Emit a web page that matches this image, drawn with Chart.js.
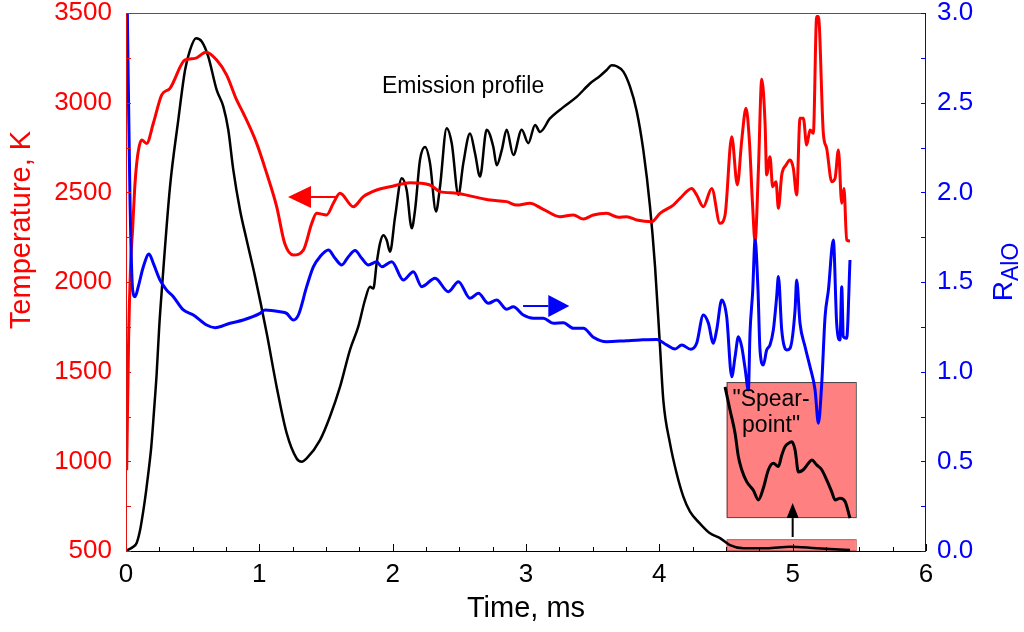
<!DOCTYPE html>
<html>
<head>
<meta charset="utf-8">
<script src="https://cdn.jsdelivr.net/npm/chart.js@4.4.1/dist/chart.umd.min.js"></script>
<style>
  html, body { margin: 0; padding: 0; background: #fff; }
  #wrap { width: 1024px; height: 632px; }
</style>
</head>
<body>
<div id="wrap"><canvas id="myChart" width="1024" height="632"></canvas></div>
<script>
// Temperature (left axis, K)
const tempTime = [0.005, 0.02, 0.035, 0.05, 0.065, 0.08, 0.1, 0.118, 0.155, 0.205, 0.268, 0.33, 0.443, 0.518, 0.6, 0.68, 0.755, 0.83, 0.88, 0.98, 1.055, 1.13, 1.19, 1.255, 1.33, 1.393, 1.43, 1.505, 1.555, 1.605, 1.705, 1.78, 1.88, 1.98, 2.13, 2.28, 2.355, 2.48, 2.605, 2.73, 2.855, 2.93, 3.03, 3.13, 3.255, 3.355, 3.43, 3.505, 3.605, 3.693, 3.755, 3.83, 3.943, 4.005, 4.105, 4.155, 4.243, 4.28, 4.33, 4.393, 4.455, 4.493, 4.543, 4.585, 4.618, 4.65, 4.675, 4.7, 4.718, 4.743, 4.768, 4.793, 4.805, 4.83, 4.85, 4.875, 4.893, 4.918, 4.95, 4.98, 5.005, 5.03, 5.055, 5.08, 5.105, 5.13, 5.155, 5.18, 5.193, 5.23, 5.255, 5.293, 5.318, 5.343, 5.368, 5.385, 5.405, 5.43];
const tempK = [950, 1700, 2100, 2300, 2520, 2660, 2760, 2792, 2773, 2885, 3043, 3080, 3238, 3247, 3281, 3238, 3154, 3015, 2941, 2773, 2606, 2420, 2216, 2151, 2178, 2327, 2383, 2374, 2439, 2495, 2420, 2476, 2513, 2531, 2554, 2541, 2504, 2495, 2476, 2457, 2448, 2429, 2439, 2405, 2364, 2374, 2351, 2374, 2383, 2361, 2364, 2346, 2336, 2383, 2429, 2466, 2522, 2485, 2420, 2522, 2327, 2374, 2810, 2541, 2790, 2969, 2792, 2420, 2225, 2625, 3130, 2885, 2597, 2699, 2531, 2559, 2411, 2597, 2652, 2680, 2634, 2485, 2913, 2913, 2764, 2848, 2829, 3480, 3480, 2829, 2746, 2559, 2578, 2736, 2439, 2522, 2234, 2229];

// R_AlO ratio (right axis)
const ratioTime = [0.01, 0.03, 0.05, 0.068, 0.092, 0.13, 0.173, 0.205, 0.255, 0.305, 0.355, 0.43, 0.505, 0.605, 0.668, 0.78, 0.88, 1.005, 1.043, 1.155, 1.205, 1.255, 1.293, 1.355, 1.405, 1.455, 1.518, 1.568, 1.618, 1.668, 1.718, 1.768, 1.818, 1.88, 1.918, 1.993, 2.08, 2.155, 2.218, 2.318, 2.418, 2.493, 2.58, 2.643, 2.718, 2.78, 2.855, 2.905, 2.98, 3.055, 3.13, 3.205, 3.28, 3.355, 3.43, 3.505, 3.605, 3.755, 3.855, 3.98, 4.055, 4.118, 4.168, 4.235, 4.28, 4.33, 4.368, 4.405, 4.43, 4.468, 4.505, 4.543, 4.568, 4.593, 4.618, 4.643, 4.668, 4.68, 4.7, 4.718, 4.74, 4.755, 4.78, 4.805, 4.83, 4.855, 4.88, 4.893, 4.918, 4.955, 4.98, 5.018, 5.03, 5.055, 5.093, 5.13, 5.168, 5.193, 5.218, 5.243, 5.268, 5.305, 5.33, 5.355, 5.368, 5.38, 5.405, 5.43];
const ratioVal = [3.0, 1.957, 1.455, 1.418, 1.474, 1.585, 1.656, 1.604, 1.511, 1.455, 1.418, 1.344, 1.316, 1.26, 1.245, 1.27, 1.288, 1.325, 1.344, 1.334, 1.325, 1.288, 1.316, 1.474, 1.584, 1.641, 1.678, 1.632, 1.595, 1.641, 1.675, 1.632, 1.595, 1.613, 1.585, 1.613, 1.511, 1.557, 1.474, 1.521, 1.446, 1.502, 1.409, 1.437, 1.381, 1.4, 1.348, 1.362, 1.316, 1.298, 1.298, 1.27, 1.273, 1.242, 1.242, 1.192, 1.167, 1.173, 1.177, 1.18, 1.149, 1.126, 1.149, 1.125, 1.158, 1.316, 1.27, 1.158, 1.232, 1.4, 1.307, 0.972, 1.083, 1.195, 1.139, 1.019, 0.898, 1.214, 1.446, 1.734, 1.455, 1.121, 1.037, 1.121, 1.149, 1.232, 1.418, 1.53, 1.232, 1.121, 1.13, 1.344, 1.511, 1.27, 1.139, 1.028, 0.898, 0.712, 0.935, 1.307, 1.455, 1.734, 1.27, 1.177, 1.474, 1.195, 1.186, 1.623];

// Emission profile (arbitrary units, hidden axis 0-100)
const emisTime = [0, 0.055, 0.08, 0.105, 0.13, 0.15, 0.17, 0.19, 0.21, 0.23, 0.25, 0.27, 0.33, 0.392, 0.443, 0.48, 0.525, 0.568, 0.617, 0.68, 0.73, 0.767, 0.805, 0.855, 0.905, 0.968, 1.055, 1.13, 1.205, 1.28, 1.318, 1.355, 1.455, 1.53, 1.605, 1.68, 1.742, 1.793, 1.83, 1.855, 1.88, 1.905, 1.93, 1.955, 1.98, 2.018, 2.068, 2.105, 2.143, 2.168, 2.205, 2.243, 2.28, 2.325, 2.355, 2.405, 2.443, 2.493, 2.53, 2.58, 2.618, 2.655, 2.705, 2.755, 2.78, 2.818, 2.855, 2.905, 2.968, 3.017, 3.068, 3.105, 3.18, 3.28, 3.38, 3.48, 3.555, 3.605, 3.643, 3.68, 3.73, 3.78, 3.83, 3.88, 3.93, 3.968, 4.005, 4.03, 4.08, 4.13, 4.18, 4.23, 4.305, 4.38, 4.455, 4.53, 4.63, 4.805, 4.98, 5.18, 5.43];
const emisVal = [0, 0.8, 1.5, 3.8, 7.5, 11, 15, 19.5, 26, 33, 42, 49, 67.7, 80.1, 89.4, 93.1, 95.3, 94.7, 91.9, 85.7, 82.6, 78.3, 70.8, 63.4, 57.8, 51, 40.5, 30.5, 21.9, 17.2, 16.6, 17.2, 20.6, 25, 30.5, 37.4, 41.7, 46.7, 49.1, 48.8, 53.5, 57.2, 58.7, 57.8, 55.6, 62.1, 69.3, 67.1, 60, 63.4, 72.7, 75.1, 72.1, 63.1, 67.7, 78.6, 75.8, 66.2, 72.1, 77.6, 73.9, 69.6, 78.3, 75.1, 71.7, 74.5, 78.3, 73.6, 78.3, 75.8, 79.2, 77.9, 80.4, 82.5, 84.4, 86.9, 88.3, 89.4, 90.3, 90.1, 89.1, 86.3, 81.8, 74.5, 64, 52.8, 38, 28, 20, 14.4, 10.1, 7.3, 5.1, 3.3, 2.4, 1.1, 0.5, 0.5, 0.8, 0.5, 0.2];

// Magnified "spear-point" tail (same hidden axis)
const spearTime = [4.493, 4.53, 4.568, 4.593, 4.618, 4.655, 4.705, 4.743, 4.78, 4.818, 4.855, 4.893, 4.918, 4.943, 4.968, 4.993, 5.018, 5.043, 5.08, 5.118, 5.143, 5.18, 5.218, 5.255, 5.293, 5.318, 5.355, 5.393, 5.43];
const spearVal = [30.5, 26.2, 21.9, 17.5, 15.1, 12.9, 11.3, 9.5, 11.7, 15.1, 16.3, 15.7, 17.8, 19.4, 20, 20.3, 18.8, 14.7, 15.1, 16.3, 16.9, 16, 15.1, 13.2, 11, 9.5, 9.8, 9.2, 6.1];

const timeTicks = [0, 1, 2, 3, 4, 5, 6];
const tempTicks = [500, 1000, 1500, 2000, 2500, 3000, 3500];
const ratioTicks = [0, 0.5, 1.0, 1.5, 2.0, 2.5, 3.0];

const FONT = 'Arial, "Liberation Sans", sans-serif';
Chart.defaults.font.family = FONT;

function pts(xs, ys) {
  return xs.map((x, i) => ({ x: x, y: ys[i] }));
}

function line(ctx, x1, y1, x2, y2) {
  ctx.beginPath();
  ctx.moveTo(x1, y1);
  ctx.lineTo(x2, y2);
  ctx.stroke();
}

function arrow(ctx, x1, y1, x2, y2, color, head, half, width) {
  // shaft up to the head base, then a filled triangle ending at (x2,y2)
  const ang = Math.atan2(y2 - y1, x2 - x1);
  const bx = x2 - head * Math.cos(ang);
  const by = y2 - head * Math.sin(ang);
  ctx.strokeStyle = color;
  ctx.fillStyle = color;
  ctx.lineWidth = width;
  line(ctx, x1, y1, bx, by);
  ctx.beginPath();
  ctx.moveTo(x2, y2);
  ctx.lineTo(bx - half * Math.sin(ang), by + half * Math.cos(ang));
  ctx.lineTo(bx + half * Math.sin(ang), by - half * Math.cos(ang));
  ctx.closePath();
  ctx.fill();
}

const overlay = {
  id: "overlay",
  beforeDatasetsDraw(chart) {
    const ctx = chart.ctx;
    const x = chart.scales.x, e = chart.scales.yE;
    ctx.save();
    // pink boxes: zoomed window and its source region
    const x1 = x.getPixelForValue(4.505), x2 = x.getPixelForValue(5.473);
    ctx.fillStyle = "#ff8080";
    ctx.strokeStyle = "#444";
    ctx.lineWidth = 1;
    let t = e.getPixelForValue(31.4), b = e.getPixelForValue(6.3);
    ctx.fillRect(x1, t, x2 - x1, b - t);
    ctx.strokeRect(x1 + 0.5, t + 0.5, x2 - x1, b - t);
    t = e.getPixelForValue(2.2); b = e.getPixelForValue(0);
    ctx.fillRect(x1, t, x2 - x1, b - t);
    ctx.strokeStyle = "#c86060";
    ctx.strokeRect(x1 + 0.5, t + 0.5, x2 - x1, b - t - 1);
    ctx.restore();
  },
  afterDatasetsDraw(chart) {
    const ctx = chart.ctx;
    const x = chart.scales.x, y = chart.scales.y, y2 = chart.scales.y2, e = chart.scales.yE;
    ctx.save();
    // direction arrows
    arrow(ctx, x.getPixelForValue(1.575), y.getPixelForValue(2474), x.getPixelForValue(1.215), y.getPixelForValue(2474), "#ff0000", 23, 11, 2);
    arrow(ctx, x.getPixelForValue(2.978), y2.getPixelForValue(1.366), x.getPixelForValue(3.325), y2.getPixelForValue(1.366), "#0000ff", 21, 11, 2);
    arrow(ctx, x.getPixelForValue(5.0), e.getPixelForValue(2.6), x.getPixelForValue(5.0), e.getPixelForValue(8.9), "#000000", 15, 6, 2);
    // labels
    ctx.fillStyle = "#000";
    ctx.textAlign = "center";
    ctx.textBaseline = "middle";
    ctx.font = "23px " + FONT;
    ctx.fillText("Emission profile", x.getPixelForValue(2.528), e.getPixelForValue(86.4));
    ctx.fillText("\"Spear-", x.getPixelForValue(4.838), e.getPixelForValue(28.2));
    ctx.fillText("point\"", x.getPixelForValue(4.838), e.getPixelForValue(23.3));
    ctx.restore();
  },
  afterDraw(chart) {
    const ctx = chart.ctx;
    const { left, right, top, bottom } = chart.chartArea;
    const x = chart.scales.x, y = chart.scales.y, y2 = chart.scales.y2;
    ctx.save();
    ctx.lineWidth = 1;
    ctx.strokeStyle = "#555";
    line(ctx, left, top + 0.5, right, top + 0.5);
    // bottom axis with inward ticks
    ctx.strokeStyle = "#000";
    line(ctx, left, bottom + 0.5, right, bottom + 0.5);
    for (let v = 0; v <= 6.001; v += 0.25) {
      const px = Math.round(x.getPixelForValue(v)) + 0.5;
      const len = Math.abs(v - Math.round(v)) < 0.01 ? 7 : 4;
      line(ctx, px, bottom, px, bottom - len);
    }
    // left axis (red)
    ctx.strokeStyle = "#e01010";
    line(ctx, left + 0.5, top, left + 0.5, bottom + 1);
    for (let v = 500; v <= 3500; v += 250) {
      const py = Math.round(y.getPixelForValue(v)) + 0.5;
      line(ctx, left, py, left + 5, py);
    }
    // right axis (blue)
    ctx.strokeStyle = "#0000ff";
    line(ctx, right - 0.5, top, right - 0.5, bottom + 1);
    for (let v = 0; v <= 3.001; v += 0.25) {
      const py = Math.round(y2.getPixelForValue(v)) + 0.5;
      line(ctx, right - 5, py, right, py);
    }
    // left axis title
    ctx.save();
    ctx.translate(22, 230);
    ctx.rotate(-Math.PI / 2);
    ctx.fillStyle = "#ff0000";
    ctx.textAlign = "center";
    ctx.textBaseline = "middle";
    ctx.font = "29px " + FONT;
    ctx.fillText("Temperature, K", 0, 0);
    ctx.restore();
    // right axis title R_AlO
    ctx.translate(1012, 272);
    ctx.rotate(-Math.PI / 2);
    ctx.fillStyle = "#0000ff";
    ctx.textBaseline = "alphabetic";
    ctx.textAlign = "left";
    ctx.font = "28px " + FONT;
    const w1 = ctx.measureText("R").width;
    ctx.font = "23px " + FONT;
    const w2 = ctx.measureText("AlO").width;
    const start = -(w1 + w2) / 2;
    ctx.font = "28px " + FONT;
    ctx.fillText("R", start, 0);
    ctx.font = "23px " + FONT;
    ctx.fillText("AlO", start + w1, 6);
    ctx.restore();
  }
};

function noPad(s) {
  s.paddingTop = 0;
  s.paddingBottom = 0;
}

const ctx = document.getElementById("myChart").getContext("2d");
const myChart = new Chart(ctx, {
  type: "line",
  data: {
    datasets: [
      {
        label: "R_AlO",
        data: pts(ratioTime, ratioVal),
        yAxisID: "y2",
        borderColor: "#0000ff",
        borderWidth: 3,
        pointRadius: 0,
        cubicInterpolationMode: "monotone",
        fill: false,
      },
      {
        label: "Temperature",
        data: pts(tempTime, tempK),
        yAxisID: "y",
        borderColor: "#ff0000",
        borderWidth: 3,
        pointRadius: 0,
        cubicInterpolationMode: "monotone",
        fill: false,
      },
      {
        label: "Emission profile",
        data: pts(emisTime, emisVal),
        yAxisID: "yE",
        borderColor: "#000000",
        borderWidth: 2.5,
        pointRadius: 0,
        cubicInterpolationMode: "monotone",
        fill: false,
      },
      {
        label: "Spear-point",
        data: pts(spearTime, spearVal),
        yAxisID: "yE",
        borderColor: "#000000",
        borderWidth: 3,
        pointRadius: 0,
        cubicInterpolationMode: "monotone",
        fill: false,
      },
    ],
  },
  options: {
    responsive: false,
    animation: false,
    devicePixelRatio: 1,
    layout: { padding: { top: 13, left: 0, right: 0, bottom: 0 } },
    plugins: {
      legend: { display: false },
      tooltip: { enabled: false },
    },
    scales: {
      x: {
        type: "linear",
        min: 0,
        max: 6,
        afterFit: (s) => { s.height = 81; s.paddingLeft = 0; s.paddingRight = 0; },
        afterBuildTicks: (s) => { s.ticks = timeTicks.map((v) => ({ value: v })); },
        grid: { display: false, drawTicks: false },
        border: { display: false },
        ticks: { color: "#000", font: { size: 26 }, padding: 8, autoSkip: false, maxRotation: 0, callback: (v) => String(v) },
        title: { display: true, text: "Time, ms", color: "#000", font: { size: 29 }, padding: { top: 0, bottom: 6 } },
      },
      y: {
        type: "linear",
        position: "left",
        min: 500,
        max: 3500,
        afterFit: (s) => { s.width = 126; noPad(s); },
        afterBuildTicks: (s) => { s.ticks = tempTicks.map((v) => ({ value: v })); },
        grid: { display: false, drawTicks: false },
        border: { display: false },
        ticks: { color: "#ff0000", font: { size: 26 }, padding: 14, callback: (v) => String(v) },
      },
      y2: {
        type: "linear",
        position: "right",
        min: 0,
        max: 3,
        afterFit: (s) => { s.width = 98; noPad(s); },
        afterBuildTicks: (s) => { s.ticks = ratioTicks.map((v) => ({ value: v })); },
        grid: { display: false, drawTicks: false },
        border: { display: false },
        ticks: { color: "#0000ff", font: { size: 26 }, padding: 11, callback: (v) => Number(v).toFixed(1) },
      },
      yE: {
        type: "linear",
        display: false,
        min: 0,
        max: 100,
      },
    },
  },
  plugins: [overlay],
});
</script>
</body>
</html>
